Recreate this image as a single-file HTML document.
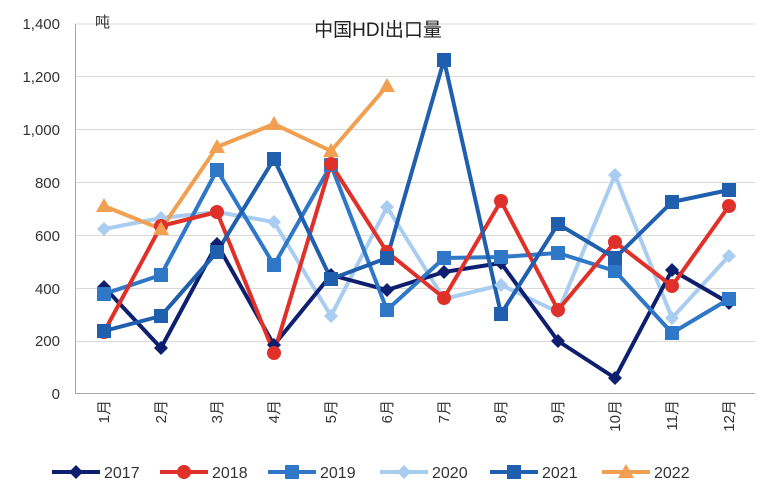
<!DOCTYPE html>
<html><head><meta charset="utf-8"><style>
body{margin:0;background:#fff;}
svg{display:block;font-family:"Liberation Sans","Noto Sans CJK SC",sans-serif;}
</style></head><body>
<svg width="758" height="492" viewBox="0 0 758 492" xmlns="http://www.w3.org/2000/svg">
<g stroke="#d9d9d9" stroke-width="1">
<line x1="75" x2="755" y1="24" y2="24"/><line x1="75" x2="755" y1="76.5" y2="76.5"/>
<line x1="75" x2="755" y1="129.5" y2="129.5"/><line x1="75" x2="755" y1="182.5" y2="182.5"/>
<line x1="75" x2="755" y1="235.5" y2="235.5"/><line x1="75" x2="755" y1="288.5" y2="288.5"/>
<line x1="75" x2="755" y1="341.5" y2="341.5"/>
</g>
<line x1="75" x2="755" y1="393.5" y2="393.5" stroke="#a6a6a6"/>
<line x1="75.5" x2="75.5" y1="24" y2="394" stroke="#a6a6a6"/>
<g font-size="15" fill="#333" text-anchor="end">
<text x="60" y="29">1,400</text><text x="60" y="82">1,200</text><text x="60" y="135">1,000</text>
<text x="60" y="188">800</text><text x="60" y="241">600</text><text x="60" y="294">400</text>
<text x="60" y="346">200</text><text x="60" y="399">0</text>
</g>
<text x="95" y="27" font-size="15" fill="#333">吨</text>
<text x="378" y="36" font-size="19" fill="#222" text-anchor="middle">中国HDI出口量</text>
<g font-size="15" fill="#333" text-anchor="end">
<text transform="translate(109,400) rotate(-90)">1月</text>
<text transform="translate(166,400) rotate(-90)">2月</text>
<text transform="translate(222,400) rotate(-90)">3月</text>
<text transform="translate(279,400) rotate(-90)">4月</text>
<text transform="translate(336,400) rotate(-90)">5月</text>
<text transform="translate(392,400) rotate(-90)">6月</text>
<text transform="translate(449,400) rotate(-90)">7月</text>
<text transform="translate(506,400) rotate(-90)">8月</text>
<text transform="translate(563,400) rotate(-90)">9月</text>
<text transform="translate(620,400) rotate(-90)">10月</text>
<text transform="translate(677,400) rotate(-90)">11月</text>
<text transform="translate(734,400) rotate(-90)">12月</text>
</g>
<defs>
<g id="dia"><path d="M0,-7 L7,0 L0,7 L-7,0Z"/></g>
<g id="sq"><rect x="-7" y="-7" width="14" height="14"/></g>
<g id="cir"><circle r="7"/></g>
<g id="tri"><path d="M0,-8 L8,6 L-8,6Z"/></g>
</defs>
<g fill="none" stroke-width="4" stroke-linejoin="round">
<polyline stroke="#a9cdf0" points="104,229 161,218 217,212 274,222 331,316 387,207 444,299 501,285 558,312 615,175 672,318 729,256"/>
<polyline stroke="#0d1f6e" points="104,287 161,348 217,244 274,345 331,275 387,290 444,272 501,263 558,341 615,378 672,270 729,303"/>
<polyline stroke="#2f78c8" points="104,294 161,275 217,170 274,265 331,165 387,310 444,258 501,257 558,253 615,271 672,333 729,299"/>
<polyline stroke="#e0302a" points="104,332 161,226 217,212 274,353 331,164 387,252 444,298 501,201 558,310 615,242 672,286 729,206"/>
<polyline stroke="#1f5fad" points="104,331 161,316 217,252 274,159 331,279 387,258 444,60 501,314 558,224 615,258 672,202 729,190"/>
<polyline stroke="#f0a050" points="104,206 161,229 217,147 274,124 331,151 387,86"/>
</g>
<g fill="#a9cdf0"><use href="#dia" x="104" y="229"/><use href="#dia" x="161" y="218"/><use href="#dia" x="217" y="212"/><use href="#dia" x="274" y="222"/><use href="#dia" x="331" y="316"/><use href="#dia" x="387" y="207"/><use href="#dia" x="444" y="299"/><use href="#dia" x="501" y="285"/><use href="#dia" x="558" y="312"/><use href="#dia" x="615" y="175"/><use href="#dia" x="672" y="318"/><use href="#dia" x="729" y="256"/></g>
<g fill="#0d1f6e"><use href="#dia" x="104" y="287"/><use href="#dia" x="161" y="348"/><use href="#dia" x="217" y="244"/><use href="#dia" x="274" y="345"/><use href="#dia" x="331" y="275"/><use href="#dia" x="387" y="290"/><use href="#dia" x="444" y="272"/><use href="#dia" x="501" y="263"/><use href="#dia" x="558" y="341"/><use href="#dia" x="615" y="378"/><use href="#dia" x="672" y="270"/><use href="#dia" x="729" y="303"/></g>
<g fill="#2f78c8"><use href="#sq" x="104" y="294"/><use href="#sq" x="161" y="275"/><use href="#sq" x="217" y="170"/><use href="#sq" x="274" y="265"/><use href="#sq" x="331" y="165"/><use href="#sq" x="387" y="310"/><use href="#sq" x="444" y="258"/><use href="#sq" x="501" y="257"/><use href="#sq" x="558" y="253"/><use href="#sq" x="615" y="271"/><use href="#sq" x="672" y="333"/><use href="#sq" x="729" y="299"/></g>
<g fill="#e0302a"><use href="#cir" x="104" y="332"/><use href="#cir" x="161" y="226"/><use href="#cir" x="217" y="212"/><use href="#cir" x="274" y="353"/><use href="#cir" x="331" y="164"/><use href="#cir" x="387" y="252"/><use href="#cir" x="444" y="298"/><use href="#cir" x="501" y="201"/><use href="#cir" x="558" y="310"/><use href="#cir" x="615" y="242"/><use href="#cir" x="672" y="286"/><use href="#cir" x="729" y="206"/></g>
<g fill="#1f5fad"><use href="#sq" x="104" y="331"/><use href="#sq" x="161" y="316"/><use href="#sq" x="217" y="252"/><use href="#sq" x="274" y="159"/><use href="#sq" x="331" y="279"/><use href="#sq" x="387" y="258"/><use href="#sq" x="444" y="60"/><use href="#sq" x="501" y="314"/><use href="#sq" x="558" y="224"/><use href="#sq" x="615" y="258"/><use href="#sq" x="672" y="202"/><use href="#sq" x="729" y="190"/></g>
<g fill="#f0a050"><use href="#tri" x="104" y="206"/><use href="#tri" x="161" y="229"/><use href="#tri" x="217" y="147"/><use href="#tri" x="274" y="124"/><use href="#tri" x="331" y="151"/><use href="#tri" x="387" y="86"/></g>
<g font-size="16" fill="#333" stroke-width="4">
<line x1="52" x2="100" y1="472" y2="472" stroke="#0d1f6e"/><use href="#dia" x="76" y="472" fill="#0d1f6e"/><text x="104" y="478">2017</text>
<line x1="160" x2="208" y1="472" y2="472" stroke="#e0302a"/><use href="#cir" x="184" y="472" fill="#e0302a"/><text x="212" y="478">2018</text>
<line x1="268" x2="316" y1="472" y2="472" stroke="#2f78c8"/><use href="#sq" x="292" y="472" fill="#2f78c8"/><text x="320" y="478">2019</text>
<line x1="380" x2="428" y1="472" y2="472" stroke="#a9cdf0"/><use href="#dia" x="404" y="472" fill="#a9cdf0"/><text x="432" y="478">2020</text>
<line x1="490" x2="538" y1="472" y2="472" stroke="#1f5fad"/><use href="#sq" x="514" y="472" fill="#1f5fad"/><text x="542" y="478">2021</text>
<line x1="602" x2="650" y1="472" y2="472" stroke="#f0a050"/><use href="#tri" x="626" y="472" fill="#f0a050"/><text x="654" y="478">2022</text>
</g>
</svg>
</body></html>
